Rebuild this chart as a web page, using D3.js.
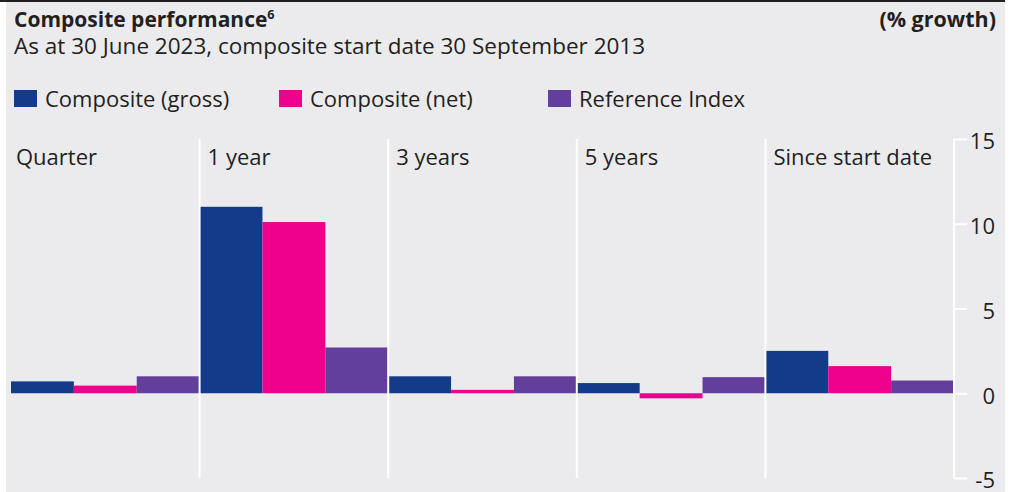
<!DOCTYPE html>
<html>
<head>
<meta charset="utf-8">
<script src="https://cdn.jsdelivr.net/npm/d3@7"></script>
<style>
  body { margin: 0; background: #fff; }
  svg { display: block; font-family: "Open Sans", sans-serif; }
</style>
</head>
<body>
<figure style="margin:0"></figure>
<script>
const periods = ["Quarter", "1 year", "3 years", "5 years", "Since start date"]
const seriesNames = ["Composite (gross)", "Composite (net)", "Reference Index"]
const gross = [0.7, 11.0, 1.0, 0.6, 2.5]
const net = [0.45, 10.1, 0.2, -0.3, 1.6]
const reference = [1.0, 2.7, 1.0, 0.95, 0.75]
const yTicks = [-5, 0, 5, 10, 15]
const colors = ["#143a8a", "#ec008c", "#623f9b"]

const svg = d3.select("figure").append("svg")
    .attr("width", 1013).attr("height", 492),
    margin = {top: 139, bottom: 14, left: 11, right: 59},
    x = d3.scaleBand().domain(periods).range([margin.left, 1013 - margin.right]),
    xs = d3.scaleBand().domain(seriesNames).range([0, x.bandwidth()]),
    y = d3.scaleLinear().domain([-5, 15]).range([492 - margin.bottom, margin.top]),
    color = d3.scaleOrdinal().domain(seriesNames).range(colors)

// panel background and top rule
svg.append("rect").attr("x", 6).attr("y", 0).attr("width", 999).attr("height", 492).attr("fill", "#ebebee")
svg.append("rect").attr("x", 0).attr("y", 0).attr("width", 1005).attr("height", 2).attr("fill", "#231f20")

svg.append("text").attr("x", 14).attr("y", 27)
    .style("font-size", "21px").style("font-weight", 700).attr("fill", "#231f20")
    .text("Composite performance")
    .append("tspan").text("6").attr("baseline-shift", "super").attr("font-size", ".6em")
svg.append("text").attr("x", 996).attr("y", 27).attr("text-anchor", "end")
    .style("font-size", "21.5px").style("font-weight", 700).attr("fill", "#231f20")
    .text("(% growth)")
svg.append("text").attr("x", 14).attr("y", 54)
    .style("font-size", "22.5px").attr("fill", "#231f20")
    .text("As at 30 June 2023, composite start date 30 September 2013")

// legend
const legendX = [14, 279, 548]
const legend = svg.append("g").selectAll("g").data(seriesNames).join("g")
    .attr("transform", (d, i) => `translate(${legendX[i]},90)`)
legend.append("rect").attr("width", 23).attr("height", 17).attr("fill", d => color(d))
legend.append("text").attr("x", 31).attr("y", 17)
    .style("font-size", "22px").attr("fill", "#231f20").text(d => d)

const rows = periods.map((p, i) => ({period: p, values: [gross[i], net[i], reference[i]]}))

const chart = svg.append("g")

// bars
chart.selectAll("g.group").data(rows).join("g").classed("group", true)
    .attr("transform", d => `translate(${x(d.period)},0)`)
    .selectAll("rect").data(d => d.values.map((v, j) => ({name: seriesNames[j], value: v})))
    .join("rect")
        .attr("x", d => xs(d.name))
        .attr("width", xs.bandwidth())
        .attr("y", d => y(Math.max(0, d.value)))
        .attr("height", d => Math.abs(y(d.value) - y(0)))
        .attr("fill", d => color(d.name))

// group separators
chart.selectAll("line.sep").data(periods.slice(1)).join("line").classed("sep", true)
    .attr("x1", d => x(d)).attr("x2", d => x(d))
    .attr("y1", y(15)).attr("y2", y(-5))
    .attr("stroke", "#fff").attr("stroke-width", 2)

// group labels
chart.selectAll("text.period").data(periods).join("text").classed("period", true)
    .attr("x", (d, i) => x(d) + (i == 0 ? 5 : 8))
    .attr("y", 165)
    .style("font-size", "22px").attr("fill", "#231f20")
    .text(d => d)

// y axis on the right (plain hyphen for negatives, like the original)
const axis = svg.append("g")
    .attr("transform", `translate(${x.range()[1]},0)`)
    .call(d3.axisRight(y).tickValues(yTicks).tickSize(13).tickPadding(0).tickFormat(d => String(d)))
axis.select(".domain").attr("stroke", "#fff").attr("stroke-width", 2).attr("d", `M0,${y(15)}V${y(-5)}`)
axis.selectAll(".tick line").attr("stroke", "#fff").attr("stroke-width", 2)
axis.selectAll(".tick text")
    .attr("x", 41).attr("dy", "0.45em").attr("text-anchor", "end")
    .style("font-size", "22px").style("font-family", "Open Sans").attr("fill", "#231f20")
</script>
</body>
</html>
